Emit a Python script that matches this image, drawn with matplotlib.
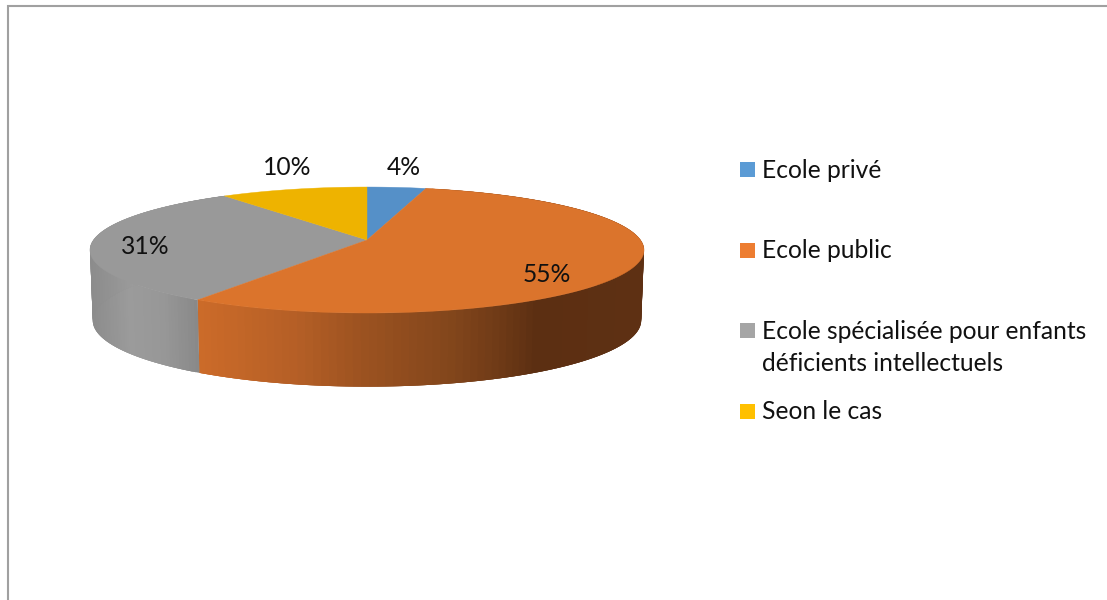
import numpy as np
import matplotlib
matplotlib.use("Agg")
import matplotlib.pyplot as plt
from matplotlib.collections import PolyCollection
from matplotlib.colors import to_rgb
from matplotlib.patches import Rectangle

categories = ["Ecole privé", "Ecole public",
              "Ecole spécialisée pour enfants\ndéficients intellectuels", "Seon le cas"]
shares = [4, 55, 31, 10]
pct_labels = ["4%", "55%", "31%", "10%"]

top_colors = ["#5590C8", "#DB742C", "#999999", "#EEB300"]
legend_colors = ["#5B9BD5", "#ED7D31", "#A5A5A5", "#FFC000"]
# side wall colour ramps (screen x position -> colour); None = wall hidden
wall_ramps = [
    None,
    ([201, 300, 367, 450, 500, 540, 642],
     ["#CC6B29", "#B55F26", "#9C5220", "#84471C", "#703B17", "#5C2F12", "#5E3013"]),
    ([90, 130, 165, 201], ["#8C8C8C", "#9B9B9B", "#979797", "#888888"]),
    None,
]
label_pos = [(404, 175), (547, 282), (145, 254), (287, 175)]
legend_text_y = [178, 258, 339, 419]
legend_box_y = [162, 243, 323, 404]

FONT = "Lato"
FS = 17.75
CX, CY = 367, 240
A, B, K = 273.5, 61.4, 0.159
BOT_SX, BOT_SY, BOT_CY = 0.99, 1.05, 310


def top_xy(th):
    X, Y = np.sin(th), np.cos(th)
    d = 1 + K * Y
    return CX + A * X / d, CY - B * Y / d


def bot_xy(th):
    X, Y = np.sin(th), np.cos(th)
    d = 1 + K * Y
    return CX + BOT_SX * A * X / d, BOT_CY - BOT_SY * B * Y / d


fig = plt.figure(figsize=(11.07, 6.0), dpi=100, facecolor="white")
ax = fig.add_axes([0, 0, 1, 1])
ax.set_xlim(0, 1107)
ax.set_ylim(600, 0)
ax.axis("off")

edges = np.radians(np.concatenate([[0], np.cumsum(shares)]) / np.sum(shares) * 360)

# outer frame (open on the right and bottom)
ax.plot([8, 8, 1107], [600, 6, 6], color="#A0A0A0", lw=1.5, solid_joinstyle="miter")

# walls: overlapping quads so that no seams appear between them
for i, ramp in enumerate(wall_ramps):
    if ramp is None:
        continue
    ths = np.linspace(edges[i], edges[i + 1], 140)
    xt, yt = top_xy(ths)
    xb, yb = bot_xy(ths)
    rgb = np.array([to_rgb(c) for c in ramp[1]])
    polys, cols = [], []
    for j in range(len(ths) - 1):
        e = min(j + 3, len(ths) - 1)
        polys.append([(xt[j], yt[j]), (xt[e], yt[e]), (xb[e], yb[e]), (xb[j], yb[j])])
        cols.append([np.interp(xt[j], ramp[0], rgb[:, c]) for c in range(3)])
    ax.add_collection(PolyCollection(polys, facecolors=cols, edgecolors="none", linewidths=0, zorder=2))

# top surface
for i in range(len(shares)):
    ths = np.linspace(edges[i], edges[i + 1], 200)
    x, y = top_xy(ths)
    ax.fill(np.r_[CX, x], np.r_[CY, y], color=top_colors[i], lw=0.3, zorder=3 + (i == 1))

# percent labels
for lab, (x, y) in zip(pct_labels, label_pos):
    ax.text(x, y, lab, ha="center", va="baseline", family=FONT, fontsize=FS, color="#111111", zorder=5)

# legend
for name, col, ty, by in zip(categories, legend_colors, legend_text_y, legend_box_y):
    ax.add_patch(Rectangle((740, by), 15, 15, fc=col, ec="none", zorder=5))
    for k, line in enumerate(name.split("\n")):
        ax.text(762, ty + 32 * k, line, ha="left", va="baseline", family=FONT, fontsize=FS,
                color="#111111", zorder=5)

fig.savefig("out.png", dpi=100, facecolor="white")
